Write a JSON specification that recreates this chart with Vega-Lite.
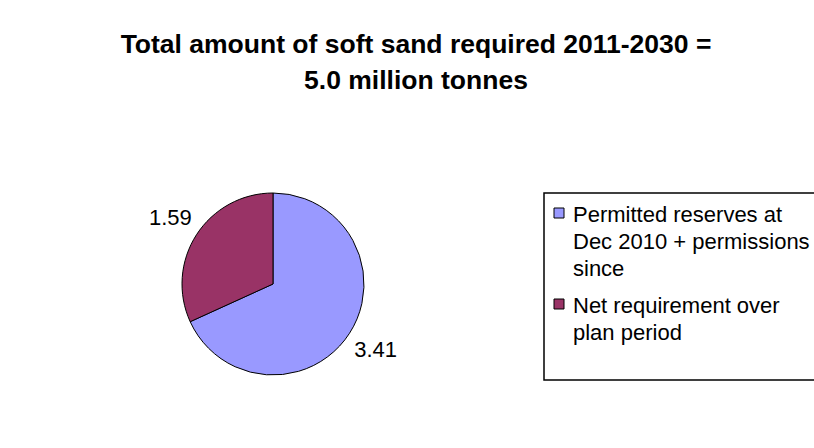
{
  "$schema": "https://vega.github.io/schema/vega-lite/v6.json",
  "width": 546,
  "height": 368,
  "autosize": {"type": "none"},
  "padding": {"left": 0, "top": 100, "right": 268, "bottom": 0},
  "background": "white",
  "title": {
    "text": ["Total amount of soft sand required 2011-2030 =", "5.0 million tonnes"],
    "font": "Liberation Sans",
    "fontSize": 26.5,
    "fontWeight": "bold",
    "color": "black",
    "lineHeight": 36,
    "anchor": "middle",
    "dx": 143,
    "offset": 6
  },
  "data": {
    "values": [
      {"category": "Permitted reserves at Dec 2010 + permissions since", "value": 3.41},
      {"category": "Net requirement over plan period", "value": 1.59}
    ]
  },
  "encoding": {
    "theta": {"field": "value", "type": "quantitative", "stack": true},
    "order": {"field": "category", "sort": "descending"}
  },
  "layer": [
    {
      "mark": {"type": "arc", "outerRadius": 91, "stroke": "black", "strokeWidth": 1},
      "encoding": {
        "color": {
          "field": "category",
          "type": "nominal",
          "scale": {
            "domain": ["Permitted reserves at Dec 2010 + permissions since", "Net requirement over plan period"],
            "range": ["#9999FF", "#993366"]
          },
          "legend": {
            "orient": "none",
            "legendX": 544,
            "legendY": 93,
            "title": null,
            "padding": 9,
            "labelFont": "Liberation Sans",
            "labelFontSize": 22,
            "labelColor": "black",
            "labelLimit": 600,
            "labelOffset": 3,
            "labelBaseline": "alphabetic",
            "symbolType": "square",
            "symbolSize": 100,
            "symbolOffset": -5,
            "symbolStrokeColor": "black",
            "symbolStrokeWidth": 1,
            "rowPadding": 13,
            "labelExpr": "datum.label == 'Net requirement over plan period' ? ['Net requirement over', 'plan period', ''] : ['Permitted reserves at', 'Dec 2010 + permissions', 'since']",
            "encode": {"labels": {"update": {"dy": {"value": 9}, "lineHeight": {"value": 27}}}}
          }
        }
      }
    },
    {
      "mark": {"type": "text", "radius": 122, "font": "Liberation Sans", "fontSize": 22, "fill": "black", "align": "center", "baseline": "middle"},
      "encoding": {
        "detail": {"field": "category", "type": "nominal"},
        "text": {"field": "value", "type": "quantitative", "format": ".2f"}
      }
    }
  ],
  "config": {
    "view": {"stroke": null},
    "legend": {"strokeColor": "black", "strokeWidth": 1.5, "fillColor": "white"}
  }
}
